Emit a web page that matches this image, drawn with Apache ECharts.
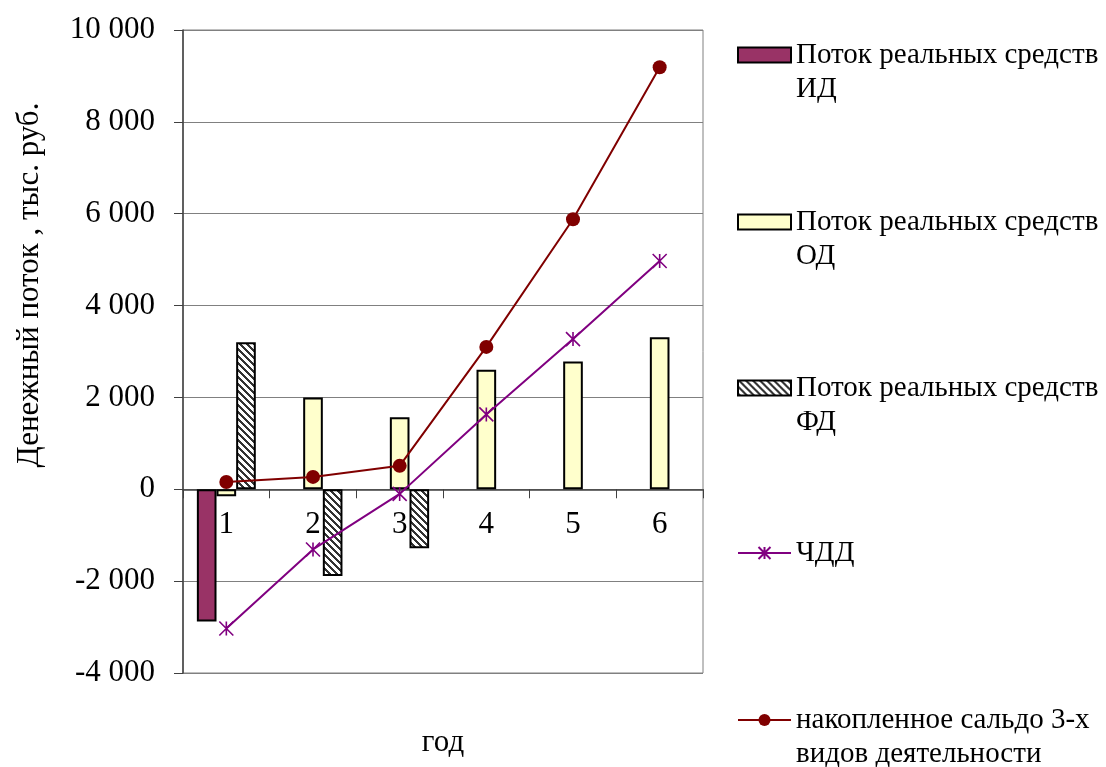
<!DOCTYPE html>
<html>
<head>
<meta charset="utf-8">
<script src="https://cdn.jsdelivr.net/npm/echarts@6/dist/echarts.min.js"></script>
<style>
  html, body { margin: 0; padding: 0; background: #fff; }
  #chart { width: 1106px; height: 767px; }
</style>
</head>
<body>
<div id="chart"></div>
<script>
// Years of the project
const years = ['1', '2', '3', '4', '5', '6'];

// Cash flows by activity, thousand roubles
const flowInvest = [-2880, null, null, null, null, null];     // ИД
const flowOper = [-150, 2000, 1570, 2600, 2780, 3310];        // ОД
const flowFin = [3200, -1890, -1285, null, null, null];       // ФД
const npv = [-3030, -1310, -100, 1630, 3270, 4970];           // ЧДД
const balance = [160, 270, 510, 3100, 5880, 9190];            // накопленное сальдо

const seriesNames = [
  'Поток реальных средств\nИД',
  'Поток реальных средств\nОД',
  'Поток реальных средств\nФД',
  'ЧДД',
  'накопленное сальдо 3-х\nвидов деятельности'
];

// Value axis range
const Y_MIN = -4000, Y_MAX = 10000, Y_STEP = 2000;

const FONT = 'Liberation Serif';

// Diagonal "\" hatch fill for the financing-activity bars
function hatchPattern() {
  const P = 7;
  const c = document.createElement('canvas');
  c.width = P; c.height = P;
  const ctx = c.getContext('2d');
  ctx.fillStyle = '#ffffff';
  ctx.fillRect(0, 0, P, P);
  ctx.fillStyle = '#333333';
  for (let y = 0; y < P; y++) {
    for (let x = 0; x < P; x++) {
      if (((x - y) % P + P) % P < 3) ctx.fillRect(x, y, 1, 1);
    }
  }
  return { image: c, repeat: 'repeat' };
}

function fmt(v) {
  const s = String(Math.abs(v)).replace(/\B(?=(\d{3})+(?!\d))/g, ' ');
  return (v < 0 ? '-' : '') + s;
}

const W = 1106, H = 767;
const GRID = { left: 183, right: 403, top: 30, bottom: 94 };
const gridHeight = H - GRID.top - GRID.bottom;
// Lift the category axis (with its labels) from the bottom edge up to the zero line
const zeroLift = gridHeight * (0 - Y_MIN) / (Y_MAX - Y_MIN);

const chart = echarts.init(document.getElementById('chart'), null, { renderer: 'canvas' });

// Legend entries stacked along the right side, one component each.
// Two-line names get an empty leading line so the first line sits level with the icon.
const legendCenters = [55, 222, 388, 553, 720];
const LH = 34;
const legends = seriesNames.map((name, i) => {
  const multi = name.indexOf('\n') >= 0;
  const isBar = i < 3;
  return {
    data: [isBar ? { name: name, icon: 'rect' } : name],
    orient: 'vertical',
    left: 737,
    top: multi ? legendCenters[i] - (LH * 3) / 2 : legendCenters[i] - LH / 2,
    padding: 0,
    itemWidth: 53,
    itemHeight: 15,
    itemGap: 0,
    selectedMode: false,
    formatter: n => (multi ? '\n' + n : n),
    textStyle: {
      fontFamily: FONT,
      fontSize: 29,
      color: '#000',
      lineHeight: LH
    }
  };
});

const barBorder = { borderColor: '#000', borderWidth: 2 };

const option = {
  backgroundColor: '#fff',
  animation: false,
  legend: legends,
  grid: Object.assign({
    outerBoundsMode: 'none',
    containLabel: false,
    show: true, borderColor: '#808080', borderWidth: 1, backgroundColor: '#fff'
  }, GRID),
  xAxis: {
    type: 'category',
    data: years,
    position: 'bottom',
    offset: -zeroLift,
    name: 'год',
    nameLocation: 'middle',
    nameGap: 238,
    nameTextStyle: { fontFamily: FONT, fontSize: 31, color: '#000' },
    axisLine: { onZero: false, lineStyle: { color: '#404040', width: 1.5 } },
    axisTick: { show: true, inside: false, length: 9, lineStyle: { color: '#404040' } },
    axisLabel: { fontFamily: FONT, fontSize: 31, color: '#000', margin: 20 },
    splitLine: { show: false }
  },
  yAxis: {
    type: 'value',
    min: Y_MIN, max: Y_MAX, interval: Y_STEP,
    name: 'Денежный поток , тыс. руб.',
    nameLocation: 'middle',
    nameGap: 138,
    nameRotate: 90,
    nameTextStyle: { fontFamily: FONT, fontSize: 31, color: '#000', padding: [0, 0, 0, 133] },
    axisLine: { show: true, lineStyle: { color: '#404040', width: 1.5 } },
    axisTick: { show: true, inside: false, length: 9, lineStyle: { color: '#404040' } },
    axisLabel: { fontFamily: FONT, fontSize: 31, color: '#000', margin: 28, formatter: fmt },
    splitLine: { show: true, lineStyle: { color: '#808080', width: 1 } }
  },
  series: [
    {
      name: seriesNames[0], type: 'bar', data: flowInvest,
      barGap: '0%', barCategoryGap: '32%',
      itemStyle: Object.assign({ color: '#993366' }, barBorder)
    },
    {
      name: seriesNames[1], type: 'bar', data: flowOper,
      barGap: '0%', barCategoryGap: '32%',
      itemStyle: Object.assign({ color: '#FFFFCC' }, barBorder)
    },
    {
      name: seriesNames[2], type: 'bar', data: flowFin,
      barGap: '0%', barCategoryGap: '32%',
      itemStyle: Object.assign({ color: hatchPattern() }, barBorder)
    },
    {
      name: seriesNames[3], type: 'line', data: npv,
      symbol: 'path://M0,0 L10,10 M10,0 L0,10 M5,0 L5,10',
      symbolSize: 14,
      lineStyle: { color: '#800080', width: 2 },
      itemStyle: { color: 'none', borderColor: '#800080', borderWidth: 1.6 }
    },
    {
      name: seriesNames[4], type: 'line', data: balance,
      symbol: 'circle', symbolSize: 14,
      lineStyle: { color: '#800000', width: 2 },
      itemStyle: { color: '#800000', borderColor: '#800000', borderWidth: 0 }
    }
  ]
};

chart.setOption(option);
</script>
</body>
</html>
